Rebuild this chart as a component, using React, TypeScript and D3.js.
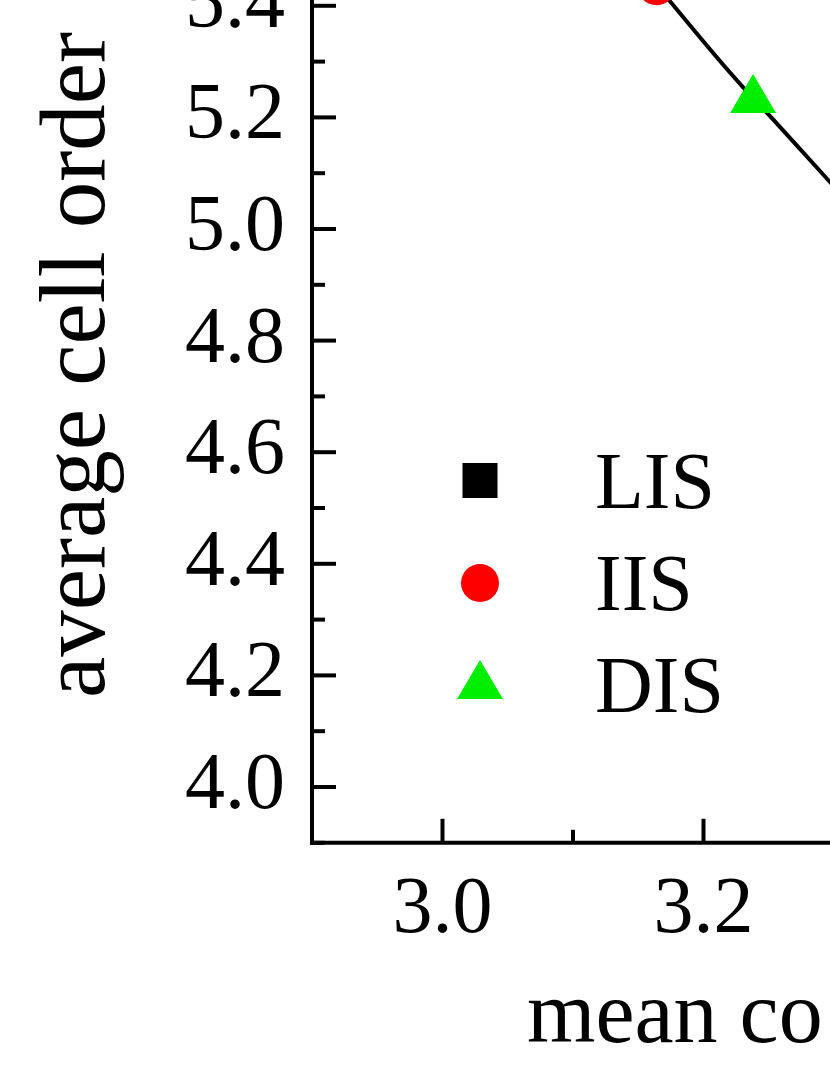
import React from "react";
import * as d3 from "d3";

// ---- data ----
const seriesNames = ["LIS", "IIS", "DIS"];
const seriesColors = ["#000000", "#ff0000", "#00ee00"];
// IIS point (red circle)
const iisX = [3.164];
const iisY = [5.435];
// DIS point (green triangle)
const disX = [3.238];
const disY = [5.231];
// fitted curve
const fitX = [3.164, 3.174, 3.205, 3.23, 3.249, 3.297, 3.31];
const fitY = [5.435, 5.41, 5.321, 5.254, 5.208, 5.084, 5.05];
// ticks
const yMajor = [4.0, 4.2, 4.4, 4.6, 4.8, 5.0, 5.2, 5.4];
const yMajorLabels = ["4.0", "4.2", "4.4", "4.6", "4.8", "5.0", "5.2", "5.4"];
const yMinor = [3.9, 4.1, 4.3, 4.5, 4.7, 4.9, 5.1, 5.3, 5.5];
const xMajor = [3.0, 3.2];
const xMajorLabels = ["3.0", "3.2"];
const xMinor = [3.1, 3.3];
const xTitle = "mean co";
const yTitle = "average cell order";

const FONT = "'Liberation Serif', 'Times New Roman', Times, serif";

export default function App() {
  const W = 830;
  const H = 1075;
  const left = 312;
  const bottom = 842.8;
  const x = d3.scaleLinear().domain([2.9, 3.5]).range([left, left + 0.6 * 1305]);
  const y = d3.scaleLinear().domain([3.9, 5.5]).range([bottom, bottom - 1.6 * 558]);

  const fitData = fitX.map((v, i) => [v, fitY[i]] as [number, number]);
  const line = d3
    .line<[number, number]>()
    .x((d) => x(d[0]))
    .y((d) => y(d[1]))
    .curve(d3.curveBasis);

  const tri = (cx: number, cy: number) => {
    const w = 46;
    const h = 39;
    return `M${cx},${cy - (2 * h) / 3}L${cx + w / 2},${cy + h / 3}L${cx - w / 2},${cy + h / 3}Z`;
  };

  const majorLen = 24;
  const minorLen = 13;
  const sw = 4;

  return (
    <svg
      width={W}
      height={H}
      style={{ position: "absolute", left: 0, top: 0, display: "block", background: "#fff" }}
    >
      <rect x={0} y={0} width={W} height={H} fill="#fff" />
      {/* fitted curve */}
      <path d={line(fitData) || ""} fill="none" stroke="#000" strokeWidth={4} />
      {/* data points */}
      {iisX.map((v, i) => (
        <circle key={"iis" + i} cx={x(v)} cy={y(iisY[i])} r={19} fill={seriesColors[1]} />
      ))}
      {disX.map((v, i) => (
        <path key={"dis" + i} d={tri(x(v), y(disY[i]))} fill={seriesColors[2]} />
      ))}

      {/* axes */}
      <line x1={left} y1={bottom + sw / 2} x2={left} y2={-10} stroke="#000" strokeWidth={sw} />
      <line x1={left - sw / 2} y1={bottom} x2={W + 10} y2={bottom} stroke="#000" strokeWidth={sw} />

      {yMajor.map((v, i) => (
        <g key={"ym" + i}>
          <line x1={left} x2={left + majorLen} y1={y(v)} y2={y(v)} stroke="#000" strokeWidth={sw} />
          <text
            x={left - 27}
            y={y(v) + 21}
            textAnchor="end"
            fontFamily={FONT}
            fontSize={80}
            fill="#000"
          >
            {yMajorLabels[i]}
          </text>
        </g>
      ))}
      {yMinor.map((v, i) => (
        <line key={"yn" + i} x1={left} x2={left + minorLen} y1={y(v)} y2={y(v)} stroke="#000" strokeWidth={sw} />
      ))}
      {xMajor.map((v, i) => (
        <g key={"xm" + i}>
          <line x1={x(v)} x2={x(v)} y1={bottom} y2={bottom - majorLen} stroke="#000" strokeWidth={sw} />
          <text x={x(v)} y={932} textAnchor="middle" fontFamily={FONT} fontSize={80} fill="#000">
            {xMajorLabels[i]}
          </text>
        </g>
      ))}
      {xMinor.map((v, i) => (
        <line key={"xn" + i} x1={x(v)} x2={x(v)} y1={bottom} y2={bottom - minorLen} stroke="#000" strokeWidth={sw} />
      ))}

      {/* axis titles */}
      <text x={527} y={1042} fontFamily={FONT} fontSize={88} fill="#000">
        {xTitle}
      </text>
      <text
        transform="translate(104,365) rotate(-90)"
        textAnchor="middle"
        fontFamily={FONT}
        fontSize={93}
        fill="#000"
      >
        {yTitle}
      </text>

      {/* legend */}
      <rect x={462.5} y={463} width={35} height={35} fill={seriesColors[0]} />
      <text x={595} y={508} fontFamily={FONT} fontSize={80} fill="#000">
        {seriesNames[0]}
      </text>
      <circle cx={480} cy={583} r={19} fill={seriesColors[1]} />
      <text x={595} y={610} fontFamily={FONT} fontSize={80} fill="#000">
        {seriesNames[1]}
      </text>
      <path d={tri(480, 686)} fill={seriesColors[2]} />
      <text x={595} y={712} fontFamily={FONT} fontSize={80} fill="#000">
        {seriesNames[2]}
      </text>
    </svg>
  );
}
